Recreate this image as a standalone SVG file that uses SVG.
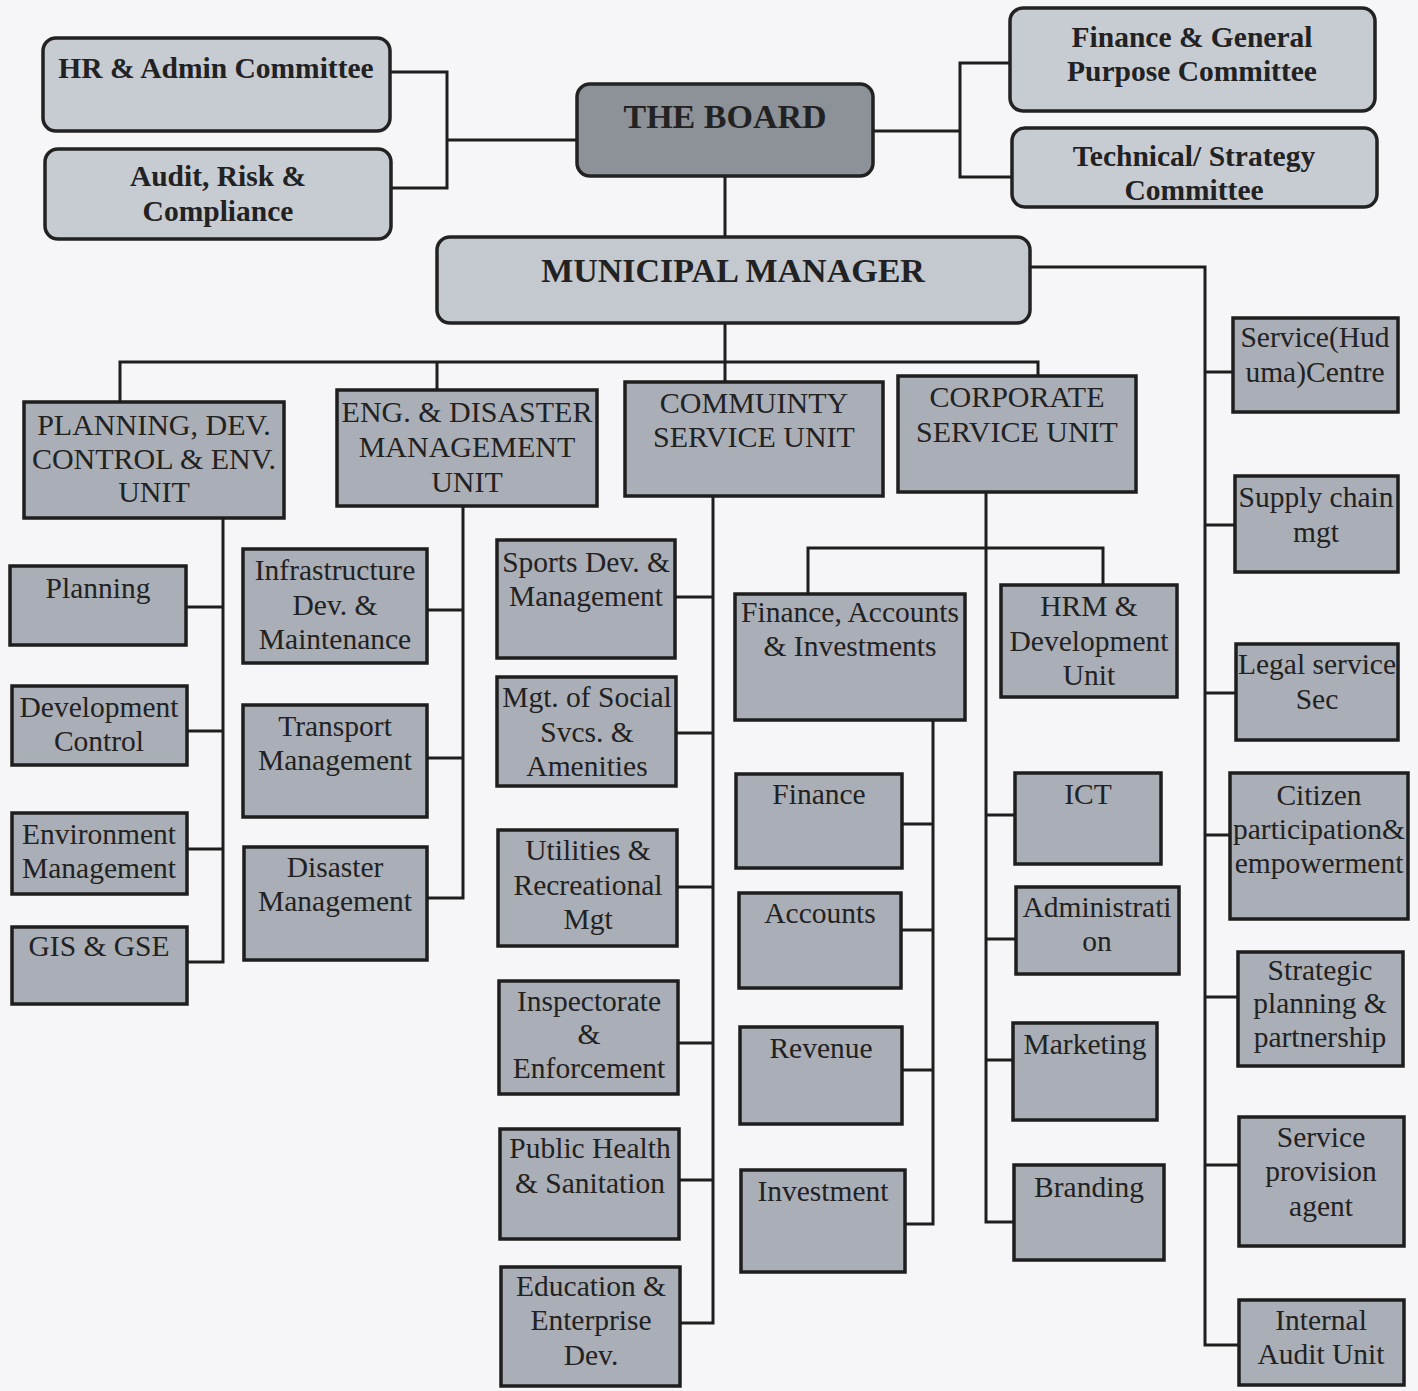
<svg xmlns="http://www.w3.org/2000/svg" width="1418" height="1391" viewBox="0 0 1418 1391">
<style>
.bg{fill:#f6f6f8}
.com{fill:#c7cbd2;stroke:#222;stroke-width:3.5}
.board{fill:#8d9198;stroke:#222;stroke-width:3.5}
.mm{fill:#c4c8cf;stroke:#222;stroke-width:3.5}
.box{fill:#aaaeb6;stroke:#1e1e1e;stroke-width:3.5}
.ln{fill:none;stroke:#1e1e1e;stroke-width:3}
text{font-family:"Liberation Serif","Times New Roman",serif;fill:#222;text-anchor:middle}
.b{font-weight:bold;font-size:29.5px}
.big{font-weight:bold;font-size:34px}
.h{font-size:30px}
.t{font-size:29.5px}
</style>
<rect class="bg" x="0" y="0" width="1418" height="1391"/>
<g id="connectors">
<path class="ln" d="M390 72H447V188H391M447 140H577"/>
<path class="ln" d="M873 131H960M1010 63H960V177H1012"/>
<path class="ln" d="M725 176V237"/>
<path class="ln" d="M1030 267H1205V1345H1239"/>
<path class="ln" d="M1205 372H1233M1205 525H1235M1205 693H1236M1205 835H1230M1205 997H1238M1205 1165H1239"/>
<path class="ln" d="M725 323V382M120 402V362H1038V376M437 362V390"/>
<path class="ln" d="M223 518V962H187M186 607H223M187 731H223M187 849H223"/>
<path class="ln" d="M463 506V898H427M427 610H463M427 758H463"/>
<path class="ln" d="M713 496V1323H680M675 597H713M676 733H713M677 887H713M678 1043H713M679 1180H713"/>
<path class="ln" d="M986 492V1222H1014M986 815H1015M986 939H1016M986 1060H1013"/>
<path class="ln" d="M808 596V548H1103V586"/>
<path class="ln" d="M933 720V1224H905M902 824H933M901 930H933M902 1070H933"/>
</g>
<g id="hr-admin"><rect class="com" x="43" y="38" width="347" height="93" rx="13"/><text class="b" x="216" y="78">HR &amp; Admin Committee</text></g>
<g id="audit-risk"><rect class="com" x="45" y="149" width="346" height="90" rx="13"/><text class="b" x="218" y="186">Audit, Risk &amp;</text><text class="b" x="218" y="221">Compliance</text></g>
<g id="board"><rect class="board" x="577" y="84" width="296" height="92" rx="13"/><text class="big" x="725" y="128">THE BOARD</text></g>
<g id="finance-gp"><rect class="com" x="1010" y="8" width="365" height="103" rx="13"/><text class="b" x="1192" y="47">Finance &amp; General</text><text class="b" x="1192" y="81">Purpose Committee</text></g>
<g id="technical"><rect class="com" x="1012" y="128" width="365" height="79" rx="13"/><text class="b" x="1194" y="166">Technical/ Strategy</text><text class="b" x="1194" y="200">Committee</text></g>
<g id="mm"><rect class="mm" x="437" y="237" width="593" height="86" rx="13"/><text class="big" x="733" y="282">MUNICIPAL MANAGER</text></g>

<g id="planning-unit"><rect class="box" x="24" y="402" width="260" height="116"/><text class="h" x="154" y="435">PLANNING, DEV.</text><text class="h" x="154" y="469">CONTROL &amp; ENV.</text><text class="h" x="154" y="502">UNIT</text></g>
<g id="eng-unit"><rect class="box" x="337" y="390" width="260" height="116"/><text class="h" x="467" y="422">ENG. &amp; DISASTER</text><text class="h" x="467" y="457">MANAGEMENT</text><text class="h" x="467" y="492">UNIT</text></g>
<g id="community-unit"><rect class="box" x="625" y="382" width="258" height="114"/><text class="h" x="754" y="413">COMMUINTY</text><text class="h" x="754" y="447">SERVICE UNIT</text></g>
<g id="corporate-unit"><rect class="box" x="898" y="376" width="238" height="116"/><text class="h" x="1017" y="407">CORPORATE</text><text class="h" x="1017" y="442">SERVICE UNIT</text></g>

<g id="planning"><rect class="box" x="10" y="566" width="176" height="79"/><text class="t" x="98" y="598">Planning</text></g>
<g id="dev-control"><rect class="box" x="12" y="686" width="175" height="79"/><text class="t" x="99" y="717">Development</text><text class="t" x="99" y="751">Control</text></g>
<g id="env-mgmt"><rect class="box" x="12" y="813" width="175" height="81"/><text class="t" x="99" y="844">Environment</text><text class="t" x="99" y="878">Management</text></g>
<g id="gis"><rect class="box" x="12" y="927" width="175" height="77"/><text class="t" x="99" y="956">GIS &amp; GSE</text></g>

<g id="infrastructure"><rect class="box" x="243" y="549" width="184" height="114"/><text class="t" x="335" y="580">Infrastructure</text><text class="t" x="335" y="615">Dev. &amp;</text><text class="t" x="335" y="649">Maintenance</text></g>
<g id="transport"><rect class="box" x="243" y="705" width="184" height="112"/><text class="t" x="335" y="736">Transport</text><text class="t" x="335" y="770">Management</text></g>
<g id="disaster"><rect class="box" x="244" y="847" width="183" height="113"/><text class="t" x="335" y="877">Disaster</text><text class="t" x="335" y="911">Management</text></g>

<g id="sports"><rect class="box" x="497" y="540" width="178" height="118"/><text class="t" x="586" y="572">Sports Dev. &amp;</text><text class="t" x="586" y="606">Management</text></g>
<g id="social"><rect class="box" x="497" y="677" width="179" height="109"/><text class="t" x="587" y="707">Mgt. of Social</text><text class="t" x="587" y="742">Svcs. &amp;</text><text class="t" x="587" y="776">Amenities</text></g>
<g id="utilities"><rect class="box" x="498" y="830" width="179" height="116"/><text class="t" x="588" y="860">Utilities &amp;</text><text class="t" x="588" y="895">Recreational</text><text class="t" x="588" y="929">Mgt</text></g>
<g id="inspectorate"><rect class="box" x="499" y="981" width="179" height="113"/><text class="t" x="589" y="1011">Inspectorate</text><text class="t" x="589" y="1044">&amp;</text><text class="t" x="589" y="1078">Enforcement</text></g>
<g id="public-health"><rect class="box" x="500" y="1129" width="179" height="110"/><text class="t" x="590" y="1158">Public Health</text><text class="t" x="590" y="1193">&amp; Sanitation</text></g>
<g id="education"><rect class="box" x="501" y="1267" width="179" height="119"/><text class="t" x="591" y="1296">Education &amp;</text><text class="t" x="591" y="1330">Enterprise</text><text class="t" x="591" y="1365">Dev.</text></g>

<g id="fai"><rect class="box" x="735" y="594" width="230" height="126"/><text class="t" x="850" y="622">Finance, Accounts</text><text class="t" x="850" y="656">&amp; Investments</text></g>
<g id="hrm"><rect class="box" x="1001" y="585" width="176" height="112"/><text class="t" x="1089" y="616">HRM &amp;</text><text class="t" x="1089" y="651">Development</text><text class="t" x="1089" y="685">Unit</text></g>
<g id="finance"><rect class="box" x="736" y="774" width="166" height="94"/><text class="t" x="819" y="804">Finance</text></g>
<g id="accounts"><rect class="box" x="739" y="893" width="162" height="95"/><text class="t" x="820" y="923">Accounts</text></g>
<g id="revenue"><rect class="box" x="740" y="1027" width="162" height="97"/><text class="t" x="821" y="1058">Revenue</text></g>
<g id="investment"><rect class="box" x="741" y="1170" width="164" height="102"/><text class="t" x="823" y="1201">Investment</text></g>
<g id="ict"><rect class="box" x="1015" y="773" width="146" height="91"/><text class="t" x="1088" y="804">ICT</text></g>
<g id="administration"><rect class="box" x="1016" y="887" width="163" height="87"/><text class="t" x="1097" y="917">Administrati</text><text class="t" x="1097" y="951">on</text></g>
<g id="marketing"><rect class="box" x="1013" y="1023" width="144" height="97"/><text class="t" x="1085" y="1054">Marketing</text></g>
<g id="branding"><rect class="box" x="1014" y="1165" width="150" height="95"/><text class="t" x="1089" y="1197">Branding</text></g>

<g id="huduma"><rect class="box" x="1233" y="318" width="165" height="94"/><text class="t" x="1315" y="347">Service(Hud</text><text class="t" x="1315" y="382">uma)Centre</text></g>
<g id="supply-chain"><rect class="box" x="1235" y="476" width="163" height="96"/><text class="t" x="1316" y="507">Supply chain</text><text class="t" x="1316" y="542">mgt</text></g>
<g id="legal"><rect class="box" x="1236" y="644" width="162" height="96"/><text class="t" x="1317" y="674">Legal service</text><text class="t" x="1317" y="709">Sec</text></g>
<g id="citizen"><rect class="box" x="1230" y="773" width="178" height="146"/><text class="t" x="1319" y="805">Citizen</text><text class="t" x="1319" y="839">participation&amp;</text><text class="t" x="1319" y="873">empowerment</text></g>
<g id="strategic"><rect class="box" x="1238" y="952" width="165" height="114"/><text class="t" x="1320" y="980">Strategic</text><text class="t" x="1320" y="1013">planning &amp;</text><text class="t" x="1320" y="1047">partnership</text></g>
<g id="service-provision"><rect class="box" x="1239" y="1117" width="165" height="129"/><text class="t" x="1321" y="1147">Service</text><text class="t" x="1321" y="1181">provision</text><text class="t" x="1321" y="1216">agent</text></g>
<g id="internal-audit"><rect class="box" x="1239" y="1300" width="165" height="85"/><text class="t" x="1321" y="1330">Internal</text><text class="t" x="1321" y="1364">Audit Unit</text></g>
</svg>
